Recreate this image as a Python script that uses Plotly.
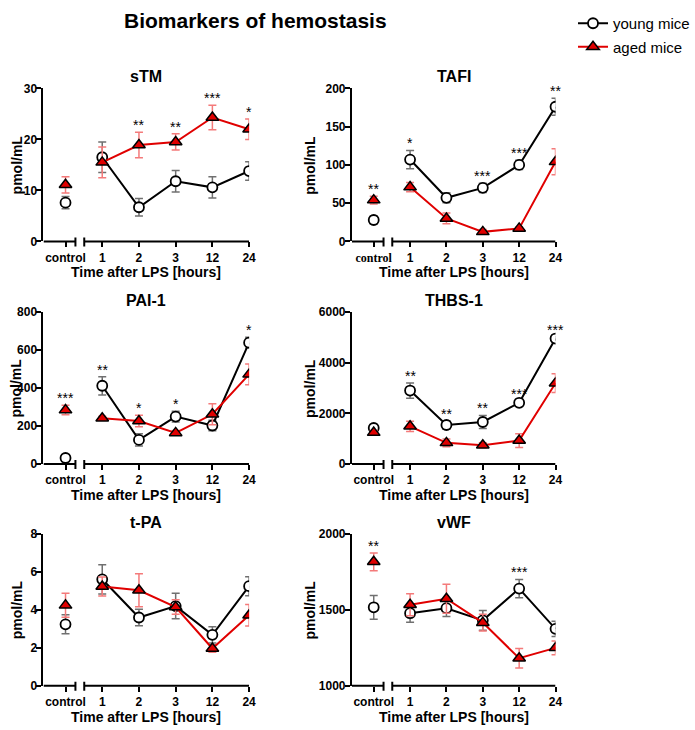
import plotly.graph_objects as go

# ---------------- data ----------------
categories = ["control", "1", "2", "3", "12", "24"]
panel_names = ["sTM", "TAFI", "PAI-1", "THBS-1", "t-PA", "vWF"]

stm_young = [7.6, 16.5, 6.7, 11.8, 10.6, 13.8]
stm_young_err = [1.2, 3.0, 1.7, 2.1, 2.1, 1.8]
stm_aged = [11.1, 15.5, 18.9, 19.5, 24.3, 22.0]
stm_aged_err = [1.6, 3.0, 2.5, 1.6, 2.4, 2.0]
stm_stars = ["", "", "**", "**", "***", "*"]

tafi_young = [28, 107, 57, 70, 100, 176]
tafi_young_err = [5, 12, 6.5, 6, 6, 11]
tafi_aged = [54, 71, 30, 12.5, 17, 104]
tafi_aged_err = [5, 6, 7, 3, 2, 17]
tafi_stars = ["**", "*", "", "***", "***", "**"]

pai_young = [32, 412, 127, 250, 203, 639]
pai_young_err = [8, 48, 32, 28, 28, 28]
pai_aged = [284, 241, 227, 164, 262, 472]
pai_aged_err = [25, 10, 30, 12, 55, 55]
pai_stars = ["***", "**", "*", "*", "", "*"]

thbs_young = [1424, 2902, 1542, 1660, 2418, 4954]
thbs_young_err = [130, 300, 170, 260, 90, 80]
thbs_aged = [1242, 1490, 837, 745, 928, 3190]
thbs_aged_err = [80, 200, 150, 100, 270, 370]
thbs_stars = ["", "**", "**", "**", "***", "***"]

tpa_young = [3.23, 5.6, 3.59, 4.19, 2.68, 5.24]
tpa_young_err = [0.5, 0.77, 0.43, 0.67, 0.43, 0.5]
tpa_aged = [4.23, 5.22, 5.02, 4.14, 1.96, 3.71]
tpa_aged_err = [0.63, 0.5, 0.87, 0.38, 0.2, 0.57]
tpa_stars = ["", "", "", "", "", ""]

vwf_young = [1516, 1477, 1510, 1430, 1639, 1374]
vwf_young_err = [78, 60, 55, 65, 60, 50]
vwf_aged = [1815, 1533, 1572, 1415, 1181, 1249]
vwf_aged_err = [58, 72, 95, 55, 64, 45]
vwf_stars = ["**", "", "", "", "***", ""]

y_ranges = [[0, 30], [0, 200], [0, 800], [0, 6000], [0, 8], [1000, 2000]]
y_dticks = [10, 50, 200, 2000, 2, 500]

panels = [
    (stm_young, stm_young_err, stm_aged, stm_aged_err, stm_stars),
    (tafi_young, tafi_young_err, tafi_aged, tafi_aged_err, tafi_stars),
    (pai_young, pai_young_err, pai_aged, pai_aged_err, pai_stars),
    (thbs_young, thbs_young_err, thbs_aged, thbs_aged_err, thbs_stars),
    (tpa_young, tpa_young_err, tpa_aged, tpa_aged_err, tpa_stars),
    (vwf_young, vwf_young_err, vwf_aged, vwf_aged_err, vwf_stars),
]

# ---------------- layout geometry ----------------
W, H = 695, 730
col_px = [(44, 252), (356, 562)]
row_px = [(83, 239), (311, 466), (537, 692)]
ytitle_shift = [-27, -42]

TICK_FONT = "Liberation Sans, Arial, sans-serif"
TEXT_FONT = "Liberation Sans, Arial, sans-serif"

RED = "#e00000"
RED_ERR = "#f47a7a"
GRAY_ERR = "#707070"

xpos = list(range(len(categories)))

fig = go.Figure()
layout = dict(
    width=W, height=H,
    margin=dict(l=0, r=0, t=0, b=0),
    paper_bgcolor="white", plot_bgcolor="white",
    showlegend=True,
)
annotations = []
shapes = []

for i, (yv, ye, av, ae, stars) in enumerate(panels):
    r, c = divmod(i, 2)
    n = i + 1
    xa = "x" if n == 1 else f"x{n}"
    ya = "y" if n == 1 else f"y{n}"
    xkey = "xaxis" if n == 1 else f"xaxis{n}"
    ykey = "yaxis" if n == 1 else f"yaxis{n}"
    x0p, x1p = col_px[c]
    y0p, y1p = row_px[r]

    ctrl_label = "control"
    if i == 1:
        ctrl_label = '<span style="font-family:Liberation Serif, Times New Roman, serif">control</span>'
    ticktext = [ctrl_label] + categories[1:]

    layout[xkey] = dict(
        domain=[x0p / W, x1p / W], anchor=ya,
        range=[-0.6, 5], showgrid=False, zeroline=False, showline=False,
        tickmode="array", tickvals=xpos, ticktext=ticktext,
        ticks="outside", ticklen=5, tickwidth=2, tickcolor="black",
        tickfont=dict(family=TICK_FONT, size=12, color="black", weight="bold"),
        fixedrange=True,
    )
    layout[ykey] = dict(
        domain=[1 - y1p / H, 1 - y0p / H], anchor=xa,
        range=y_ranges[i], dtick=y_dticks[i], tick0=y_ranges[i][0],
        showgrid=False, zeroline=False, showline=True, linewidth=2, linecolor="black",
        ticks="outside", ticklen=5, tickwidth=2, tickcolor="black",
        tickfont=dict(family=TICK_FONT, size=12, color="black", weight="bold"),
        ticklabelstandoff=-3,
        fixedrange=True,
    )

    # broken x axis
    shapes.append(dict(type="line", xref=xa, yref=f"{ya} domain",
                       x0=-0.6, x1=0.27, y0=0, y1=0,
                       line=dict(color="black", width=2)))
    shapes.append(dict(type="line", xref=xa, yref=f"{ya} domain",
                       x0=0.51, x1=5, y0=0, y1=0,
                       line=dict(color="black", width=2)))
    for bx in (0.27, 0.51):
        shapes.append(dict(type="line", xref=xa, yref=f"{ya} domain",
                           xsizemode="scaled", ysizemode="pixel", yanchor=0,
                           x0=bx, x1=bx, y0=-5, y1=4,
                           line=dict(color="black", width=2)))

    show = (i == 0)
    fig.add_trace(go.Scatter(
        x=xpos[1:], y=yv[1:], mode="lines+markers", xaxis=xa, yaxis=ya,
        name="young mice", legendgroup="young", showlegend=show,
        line=dict(color="black", width=2),
        marker=dict(symbol="circle", size=10, color="white",
                    line=dict(color="black", width=1.8)),
        error_y=dict(type="data", array=ye[1:], color=GRAY_ERR, thickness=1.5, width=4),
    ))
    fig.add_trace(go.Scatter(
        x=xpos[:1], y=yv[:1], mode="markers", xaxis=xa, yaxis=ya,
        name="young mice", legendgroup="young", showlegend=False,
        marker=dict(symbol="circle", size=10, color="white",
                    line=dict(color="black", width=1.8)),
        error_y=dict(type="data", array=ye[:1], color=GRAY_ERR, thickness=1.5, width=4),
    ))
    fig.add_trace(go.Scatter(
        x=xpos[1:], y=av[1:], mode="lines+markers", xaxis=xa, yaxis=ya,
        name="aged mice", legendgroup="aged", showlegend=show,
        line=dict(color=RED, width=2),
        marker=dict(symbol="triangle-up", size=11, color=RED,
                    line=dict(color="black", width=1.5)),
        error_y=dict(type="data", array=ae[1:], color=RED_ERR, thickness=1.5, width=4),
    ))
    fig.add_trace(go.Scatter(
        x=xpos[:1], y=av[:1], mode="markers", xaxis=xa, yaxis=ya,
        name="aged mice", legendgroup="aged", showlegend=False,
        marker=dict(symbol="triangle-up", size=11, color=RED,
                    line=dict(color="black", width=1.5)),
        error_y=dict(type="data", array=ae[:1], color=RED_ERR, thickness=1.5, width=4),
    ))

    # significance stars
    for k, s in enumerate(stars):
        if not s:
            continue
        top = max(yv[k] + ye[k], av[k] + ae[k])
        annotations.append(dict(
            x=xpos[k], y=top, xref=xa, yref=ya, text=s, showarrow=False,
            yanchor="bottom", yshift=-3,
            font=dict(family=TEXT_FONT, size=14, color="black"),
        ))

    # panel title
    annotations.append(dict(
        x=0.5, y=1, xref=f"{xa} domain", yref=f"{ya} domain",
        text=f"<b>{panel_names[i]}</b>", showarrow=False,
        xanchor="center", yanchor="bottom", yshift=1,
        font=dict(family=TEXT_FONT, size=16, color="black"),
    ))
    # y axis title
    annotations.append(dict(
        x=0, y=0.5, xref=f"{xa} domain", yref=f"{ya} domain",
        text="<b>pmol/mL</b>", showarrow=False, textangle=-90,
        xanchor="center", yanchor="middle", xshift=ytitle_shift[c],
        font=dict(family=TEXT_FONT, size=14, color="black"),
    ))
    # x axis title
    annotations.append(dict(
        x=0.5, y=0, xref=f"{xa} domain", yref=f"{ya} domain",
        text="<b>Time after LPS [hours]</b>", showarrow=False,
        xanchor="center", yanchor="middle", yshift=-31,
        font=dict(family=TEXT_FONT, size=14, color="black"),
    ))

annotations.append(dict(
    x=258 / W, y=1 - 14 / H, xref="paper", yref="paper",
    text="<b>Biomarkers of hemostasis</b>", showarrow=False,
    xanchor="center", yanchor="middle",
    font=dict(family=TEXT_FONT, size=21, color="black"),
))

layout["annotations"] = annotations
layout["shapes"] = shapes
layout["legend"] = dict(
    x=580 / W, y=1.0, xanchor="left", yanchor="top",
    font=dict(family=TEXT_FONT, size=15, color="black"),
    bgcolor="rgba(0,0,0,0)", traceorder="grouped", tracegroupgap=1,
    itemwidth=30,
)
fig.update_layout(**layout)

fig.write_html("out.html")
